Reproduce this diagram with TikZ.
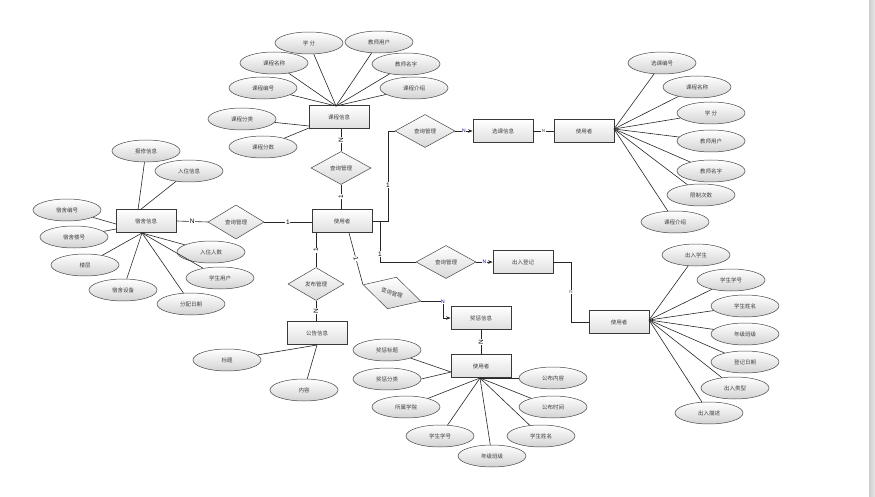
\documentclass[tikz,border=0pt]{standalone}
\usepackage{fontspec}
\setmainfont{Liberation Sans}
\newfontfamily\cjk{Noto Sans CJK SC}
\usetikzlibrary{shapes.geometric,arrows.meta}
\begin{document}
\begin{tikzpicture}[x=1pt,y=-1pt,
  txt/.style={font=\cjk\fontsize{5.5}{6}\selectfont, text=black!75},
  attr/.style={txt, ellipse, draw=gray!55!black, line width=0.5pt, top color=white, bottom color=gray!35, minimum width=68pt, minimum height=22pt, inner sep=0pt},
  ent/.style={txt, rectangle, draw=gray!45!black, line width=0.9pt, top color=white, bottom color=gray!25, minimum width=60pt, minimum height=23pt, inner sep=0pt},
  rel/.style={txt, diamond, draw=gray!55!black, line width=0.5pt, top color=white, bottom color=gray!30, minimum width=60pt, minimum height=33pt, inner sep=0pt},
  lab/.style={fill=white, inner sep=0.6pt, font=\fontsize{6.5}{7}\selectfont, text=black},
  slab/.style={fill=white, inner sep=0.4pt, font=\fontsize{4.5}{5}\selectfont, text=black!70},
  conn/.style={draw=black!85, line width=0.6pt},
  arr/.style={-{Stealth[length=4.5pt,width=3.5pt]}}]
\useasboundingbox (0,0) rectangle (875,497);
\fill[left color=gray!40, right color=gray!18] (869,0) rectangle (875,497);

% ---------- course info cluster ----------
\node[ent] (kcxx) at (339,117) {课程信息};
\node[attr] (xf) at (309,43) {学 分};
\node[attr] (jsyh) at (379,42) {教师用户};
\node[attr] (kcmc) at (274,63) {课程名称};
\node[attr] (jsmz) at (406,64) {教师名字};
\node[attr] (kcbh) at (263,88) {课程编号};
\node[attr] (kcjs) at (414,88) {课程介绍};
\node[attr] (kcfl) at (242,119) {课程分类};
\node[attr] (kcfs) at (263,147) {课程分数};
\coordinate (kctop) at (336,106);
\coordinate (kcl1) at (309,126);
\coordinate (kcl2) at (309,128);
\foreach \n in {xf,jsyh,kcmc,jsmz,kcbh,kcjs} \draw[conn] (\n) -- (kctop);
\draw[conn] (kcfl) -- (kcl1);
\draw[conn] (kcfs) -- (kcl2);

% ---------- central ----------
\node[rel] (d1) at (341,168) {查询管理};
\node[ent] (u0) at (342,221) {使用者};
\draw[conn] (kcxx.south -| d1.north) -- node[lab,rotate=90]{N} (d1.north);
\draw[conn] (d1.south) -- node[lab,rotate=90]{1} (d1.south |- u0.north);

% ---------- dorm cluster ----------
\node[ent] (ss) at (146,221) {宿舍信息};
\node[rel, minimum width=56pt, minimum height=34pt] (d2) at (236,222) {查询管理};
\draw[conn] (ss.east) -- node[lab]{N} (d2.west);
\draw[conn] (d2.east) -- node[lab]{1} (u0.west |- d2.east);
\node[attr] (bx) at (146,151) {报修信息};
\node[attr] (rz) at (189,171) {入住信息};
\node[attr] (ssbh) at (67,210) {宿舍编号};
\node[attr] (sslh) at (74,237) {宿舍楼号};
\node[attr] (lc) at (85,265) {楼层};
\node[attr] (sssb) at (123,290) {宿舍设备};
\node[attr] (fprq) at (191,304) {分配日期};
\node[attr] (xsyh) at (220,278) {学生用户};
\node[attr] (rzrs) at (211,252) {入住人数};
\coordinate (sst1) at (138,210);
\coordinate (sst2) at (140,210);
\coordinate (ssl1) at (116,224);
\coordinate (ssl2) at (116,229);
\coordinate (ssb) at (142,233);
\draw[conn] (bx) -- (sst1);
\draw[conn] (rz) -- (sst2);
\draw[conn] (ssbh) -- (ssl1);
\draw[conn] (sslh) -- (ssl2);
\foreach \n in {lc,sssb,fprq,xsyh,rzrs} \draw[conn] (\n) -- (ssb);

% ---------- notice cluster ----------
\node[rel, minimum width=56pt] (d3) at (316,284) {发布管理};
\node[ent] (gg) at (317,333) {公告信息};
\draw[conn] (u0.south -| d3.north) -- node[lab,rotate=90]{1} (d3.north);
\draw[conn] (d3.south) -- node[lab,rotate=90]{N} (d3.south |- gg.north);
\node[attr] (bt) at (227,360) {标题};
\node[attr] (nr) at (304,390) {内容};
\coordinate (ggb) at (317,345);
\draw[conn] (bt) -- (ggb);
\draw[conn] (nr) -- (ggb);

% ---------- reward / punishment cluster ----------
\node[rel, rotate=-16] (d4) at (392,293) {查询管理};
\coordinate (u0b) at (349,233);
\draw[conn] (u0b) -- node[lab,rotate=-76]{1} (d4.west);
\node[ent] (jc) at (481,318) {奖惩信息};
\coordinate (k4) at (443,310);
\draw[conn,arr] (d4.east) -- (d4.east -| k4) -- (k4 |- jc.west) -- (jc.west);
\node[lab, text=blue!60!black, font=\fontsize{5}{5}\selectfont] at (d4.east -| k4) {N};
\node[ent] (u3) at (481,366) {使用者};
\draw[conn] (jc.south) -- node[lab,rotate=90]{N} (u3.north);
\node[attr] (jcbt) at (387,350) {奖惩标题};
\node[attr] (jcfl) at (387,379) {奖惩分类};
\node[attr] (ssxy) at (406,407) {所属学院};
\node[attr] (xsxh3) at (440,436) {学生学号};
\node[attr] (njbj3) at (492,456) {年级班级};
\node[attr] (xsxm3) at (541,436) {学生姓名};
\node[attr] (gbsj) at (553,407) {公布时间};
\node[attr] (gbnr) at (553,378) {公布内容};
\coordinate (u3l) at (451,372);
\coordinate (u3b) at (480,378);
\draw[conn] (jcbt) -- (u3l);
\draw[conn] (jcfl.east) -- (u3l);
\foreach \n in {ssxy,xsxh3,njbj3,xsxm3,gbsj,gbnr} \draw[conn] (\n) -- (u3b);

% ---------- course selection cluster ----------
\node[rel] (d5) at (425,131) {查询管理};
\node[ent] (xk) at (503,131) {选课信息};
\node[ent] (u1) at (584,131) {使用者};
\coordinate (k5) at (388,222);
\draw[conn] (u0.east) -- (u0.east -| k5) |- node[lab,pos=0.2]{1} (d5.west);
\draw[conn,arr] (d5.east) -- node[lab, font=\fontsize{5}{5}\selectfont, text=blue!60!black]{N} (xk.west);
\draw[conn] (xk.east) -- node[slab]{N} (u1.west);
\node[attr] (xkbh) at (662,63) {选课编号};
\node[attr] (kcmc1) at (697,87) {课程名称};
\node[attr] (xf1) at (711,113) {学 分};
\node[attr] (jsyh1) at (711,141) {教师用户};
\node[attr] (jsmz1) at (711,171) {教师名字};
\node[attr] (xzcs) at (701,195) {限制次数};
\node[attr] (kcjs1) at (675,222) {课程介绍};
\coordinate (u1r) at (614,129);
\foreach \n in {xkbh,kcmc1,xf1,jsyh1,jsmz1,xzcs,kcjs1} \draw[conn] (\n) -- (u1r);

% ---------- in/out registration cluster ----------
\node[rel] (d6) at (446,262) {查询管理};
\node[ent] (cr) at (523,262) {出入登记};
\node[ent] (u2) at (619,322) {使用者};
\coordinate (k6) at (380,222);
\draw[conn] (k6) |- node[lab,pos=0.4]{1} (d6.west);
\draw[conn,arr] (d6.east) -- node[lab, font=\fontsize{5}{5}\selectfont, text=blue!60!black]{N} (cr.west);
\coordinate (k7) at (571,262);
\draw[conn] (cr.east) -- (k7) |- node[slab,pos=0.25]{N} (u2.west);
\node[attr] (crxs) at (696,255) {出入学生};
\node[attr] (xsxh2) at (731,280) {学生学号};
\node[attr] (xsxm2) at (745,306) {学生姓名};
\node[attr] (njbj2) at (745,334) {年级班级};
\node[attr] (djrq) at (745,362) {登记日期};
\node[attr] (crlx) at (735,388) {出入类型};
\node[attr] (crms) at (709,413) {出入描述};
\coordinate (u2r) at (649,320);
\foreach \n in {crxs,xsxh2,xsxm2,njbj2,djrq,crlx,crms} \draw[conn] (\n) -- (u2r);
\end{tikzpicture}
\end{document}
